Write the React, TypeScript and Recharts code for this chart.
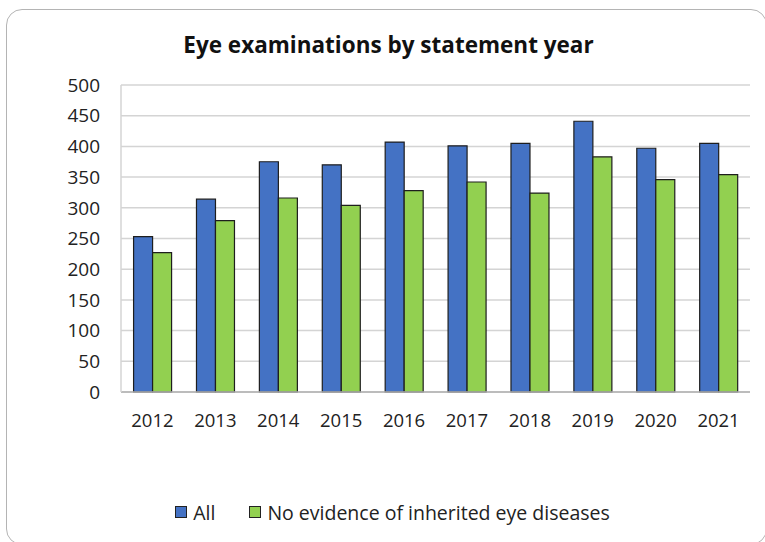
import { BarChart, Bar, XAxis, YAxis, CartesianGrid, Legend } from 'recharts'

const years = ['2012', '2013', '2014', '2015', '2016', '2017', '2018', '2019', '2020', '2021']
const allExams = [253, 314, 375, 370, 407, 401, 405, 441, 397, 405]
const noEvidence = [227, 279, 316, 304, 328, 342, 324, 383, 346, 354]
const yTicks = [0, 50, 100, 150, 200, 250, 300, 350, 400, 450, 500]

const seriesNames = { all: 'All', clear: 'No evidence of inherited eye diseases' }
const BLUE = '#4472C4'
const GREEN = '#92D050'
const FONT = '"Open Sans", sans-serif'

const data = years.map((year, i) => ({ year, all: allExams[i], clear: noEvidence[i] }))

const LegendContent = ({ payload }: any) => (
  <div
    style={{
      display: 'flex',
      justifyContent: 'center',
      alignItems: 'center',
      height: 24,
      fontFamily: FONT,
      fontSize: 19.5,
      color: '#222',
      gap: 34,
    }}
  >
    {(payload || []).map((p: any) => (
      <div key={p.value} style={{ display: 'flex', alignItems: 'center' }}>
        <span
          style={{
            display: 'inline-block',
            width: 10,
            height: 10,
            background: p.color,
            border: '1px solid #222',
            marginRight: 6,
          }}
        />
        {p.value}
      </div>
    ))}
  </div>
)

export default function App() {
  return (
    <div
      style={{
        position: 'absolute',
        left: 0,
        top: 0,
        width: 765,
        height: 542,
        overflow: 'hidden',
        background: '#fff',
      }}
    >
      {/* rounded frame, right and bottom edges just past the page */}
      <div
        style={{
          position: 'absolute',
          left: 6,
          top: 9,
          width: 761,
          height: 536,
          border: '1.5px solid #b4b4b4',
          borderRadius: 16,
          boxSizing: 'border-box',
        }}
      />
      <div
        style={{
          position: 'absolute',
          left: 0,
          top: 29,
          width: 777,
          textAlign: 'center',
          fontFamily: FONT,
          fontWeight: 700,
          fontSize: 22.5,
          color: '#111',
        }}
      >
        Eye examinations by statement year
      </div>
      <div style={{ position: 'absolute', left: 0, top: 0 }}>
        <BarChart
          width={765}
          height={542}
          data={data}
          margin={{ top: 85, right: 15, left: 0, bottom: 96 }}
          barCategoryGap="20%"
          barGap={0}
        >
          <CartesianGrid vertical={false} stroke="#d4d4d4" strokeWidth={1.5} />
          <XAxis
            dataKey="year"
            tickLine={false}
            axisLine={{ stroke: '#b0b0b0', strokeWidth: 1.5 }}
            tick={{ fill: '#222', fontSize: 18.5, fontFamily: FONT }}
            tickMargin={16}
            height={30}
            interval={0}
          />
          <YAxis
            domain={[0, 500]}
            ticks={yTicks}
            tickLine={false}
            axisLine={{ stroke: '#d4d4d4', strokeWidth: 1.5 }}
            tick={{ fill: '#222', fontSize: 19, fontFamily: FONT }}
            tickMargin={15}
            width={121}
          />
          <Legend
            content={<LegendContent />}
            verticalAlign="bottom"
            wrapperStyle={{ position: 'absolute', left: 0, top: 500, width: 785 }}
          />
          <Bar
            dataKey="all"
            name={seriesNames.all}
            fill={BLUE}
            stroke="#1e1e1e"
            strokeWidth={1.2}
            isAnimationActive={false}
          />
          <Bar
            dataKey="clear"
            name={seriesNames.clear}
            fill={GREEN}
            stroke="#1e1e1e"
            strokeWidth={1.2}
            isAnimationActive={false}
          />
        </BarChart>
      </div>
    </div>
  )
}
